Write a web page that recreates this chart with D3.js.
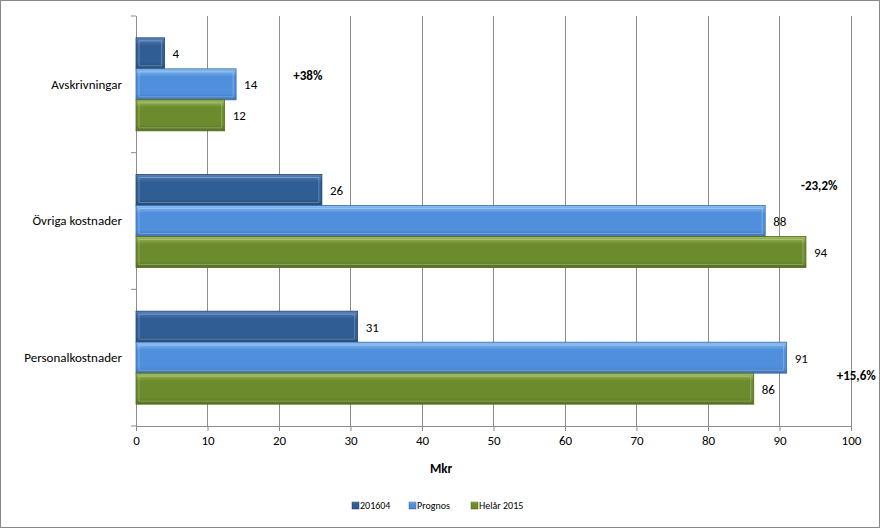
<!DOCTYPE html>
<html><head><meta charset="utf-8">
<script src="https://cdn.jsdelivr.net/npm/d3@7"></script>
<style>body{margin:0;background:#fff}text{font-family:Calibri,Carlito,"Liberation Sans",sans-serif}</style>
</head><body><div id="chart"></div>
<script>
const categories = ['Avskrivningar', 'Övriga kostnader', 'Personalkostnader'];
const seriesNames = ['201604', 'Prognos', 'Helår 2015'];
const values201604 = [4, 26, 31];
const valuesPrognos = [14, 88, 91];
const valuesHelar = [12.4, 93.7, 86.4];
const labels201604 = ['4', '26', '31'];
const labelsPrognos = ['14', '88', '91'];
const labelsHelar = ['12', '94', '86'];
const changeLabels = ['+38%', '-23,2%', '+15,6%'];
const xTicks = [0, 10, 20, 30, 40, 50, 60, 70, 80, 90, 100];

const width = 880, height = 528;
const plotLeft = 136, plotRight = 851, plotTop = 16, plotBottom = 426;
const colors = [['#5a84bb', '#2f5d94'], ['#8cc0f5', '#4f8fdc'], ['#9fbe5a', '#6b8b2c']];
const series = [values201604, valuesPrognos, valuesHelar];
const labels = [labels201604, labelsPrognos, labelsHelar];

const svg = d3.select('#chart').append('svg').attr('width', width).attr('height', height);
svg.append('rect').attr('x', 0.5).attr('y', 0.5).attr('width', width - 1).attr('height', height - 1)
  .attr('fill', '#fff').attr('stroke', '#888');

const defs = svg.append('defs');
colors.forEach((c, i) => {
  const g = defs.append('linearGradient').attr('id', 'g' + i).attr('x1', 0).attr('x2', 0).attr('y1', 0).attr('y2', 1);
  g.append('stop').attr('offset', 0).attr('stop-color', c[0]);
  g.append('stop').attr('offset', 0.25).attr('stop-color', c[1]);
  g.append('stop').attr('offset', 0.8).attr('stop-color', c[1]);
  g.append('stop').attr('offset', 1).attr('stop-color', d3.color(c[1]).darker(0.6));
});

const x = d3.scaleLinear().domain([0, 100]).range([plotLeft, plotRight]);
const y = d3.scaleBand().domain(categories).range([plotTop, plotBottom]);
const inner = d3.scaleBand().domain([0, 1, 2]).range([0, 93]).paddingInner(0);

// grid
svg.append('g').selectAll('line').data(xTicks).join('line')
  .attr('x1', d => x(d)).attr('x2', d => x(d)).attr('y1', plotTop).attr('y2', plotBottom)
  .attr('stroke', '#8c8c8c').attr('stroke-width', 1).attr('shape-rendering', 'crispEdges');

// x axis
const xAxis = svg.append('g').attr('transform', `translate(0,${plotBottom})`)
  .call(d3.axisBottom(x).tickValues(xTicks).tickSize(5).tickPadding(5));
xAxis.select('.domain').attr('stroke', '#8c8c8c');
xAxis.selectAll('line').attr('stroke', '#8c8c8c');
xAxis.selectAll('text').attr('font-size', 13).attr('fill', '#000');

// y axis
const yAxis = svg.append('g').attr('transform', `translate(${plotLeft},0)`)
  .call(d3.axisLeft(y).tickSize(0).tickPadding(14));
yAxis.select('.domain').attr('stroke', '#8c8c8c');
yAxis.selectAll('text').attr('font-size', 13).attr('fill', '#000');
svg.append('g').selectAll('line').data([plotTop, ...categories.map(c => y(c) + y.bandwidth())]).join('line')
  .attr('x1', plotLeft - 5).attr('x2', plotLeft).attr('y1', d => d).attr('y2', d => d).attr('stroke', '#8c8c8c');

// bars
categories.forEach((cat, ci) => {
  const y0 = y(cat) + (y.bandwidth() - 93) / 2;
  series.forEach((vals, si) => {
    const by = y0 + inner(si);
    svg.append('rect').attr('x', x(0)).attr('y', by).attr('width', x(vals[ci]) - x(0)).attr('height', inner.bandwidth())
      .attr('fill', `url(#g${si})`).attr('stroke', d3.color(colors[si][1]).darker(0.8)).attr('stroke-width', 0.8);
    svg.append('rect').attr('x', x(0) + 3).attr('y', by + 3).attr('width', Math.max(0, x(vals[ci]) - x(0) - 6)).attr('height', inner.bandwidth() - 6)
      .attr('fill', 'none').attr('stroke', '#fff').attr('stroke-opacity', 0.25);
    svg.append('text').attr('x', x(vals[ci]) + 8).attr('y', by + inner.bandwidth() / 2 + 5)
      .attr('font-size', 13).text(labels[si][ci]);
  });
});

// change annotations: anchored to value position and bar slot
const changeAnchor = [[22, 0, 1.2], [93, 1, 0.35], [98, 2, 2.05]];
changeLabels.forEach((t, i) => {
  const [v, ci, slot] = changeAnchor[i];
  const yy = y(categories[ci]) + (y.bandwidth() - 93) / 2 + inner.bandwidth() * slot + 5;
  svg.append('text').attr('x', x(v)).attr('y', yy)
    .attr('font-size', 13).attr('font-weight', 'bold').text(t);
});

svg.append('text').attr('x', 441).attr('y', 473).attr('text-anchor', 'middle')
  .attr('font-size', 13).attr('font-weight', 'bold').text('Mkr');

// legend
const legendX = [352, 409, 471];
seriesNames.forEach((n, i) => {
  svg.append('rect').attr('x', legendX[i]).attr('y', 502).attr('width', 7).attr('height', 7)
    .attr('fill', `url(#g${i})`).attr('stroke', d3.color(colors[i][1]).darker(0.8)).attr('stroke-width', 0.5);
  svg.append('text').attr('x', legendX[i] + 8).attr('y', 509).attr('font-size', 10).text(n);
});
</script></body></html>
